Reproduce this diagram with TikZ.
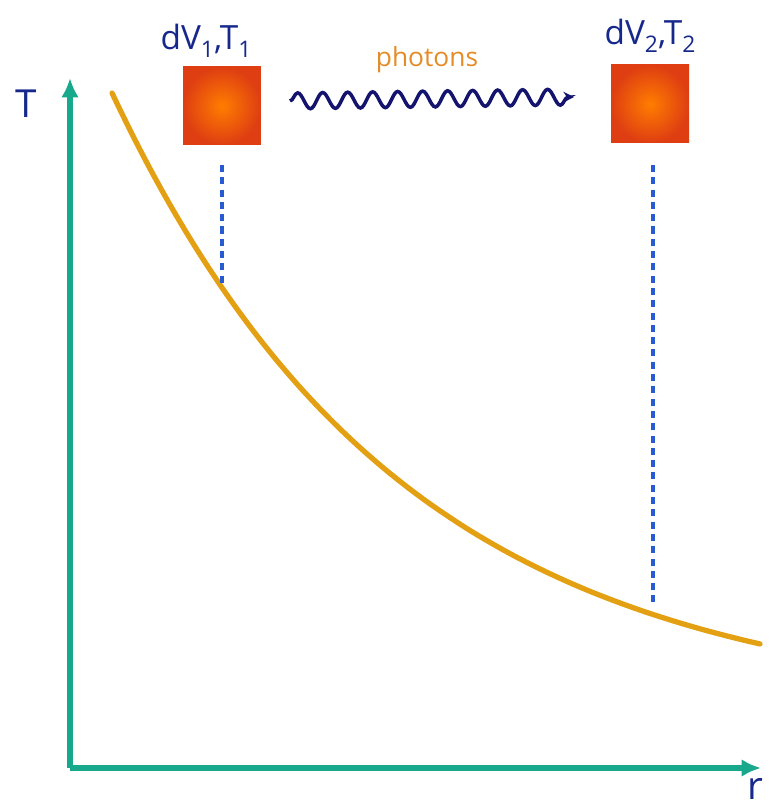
\documentclass[tikz,border=0pt]{standalone}
\usepackage{fontspec}
\setmainfont{Open Sans}
\usepackage{tikz}
\usetikzlibrary{decorations.pathmorphing,shadings,arrows.meta}

\definecolor{axisgreen}{RGB}{24,168,140}
\definecolor{curvegold}{RGB}{226,160,18}
\definecolor{labelblue}{RGB}{22,40,140}
\definecolor{dashblue}{RGB}{40,90,210}
\definecolor{photonorange}{RGB}{228,140,40}
\definecolor{wavenavy}{RGB}{20,20,110}
\definecolor{hotcore}{RGB}{255,125,0}
\definecolor{hotrim}{RGB}{222,62,18}

\newcommand{\lowsub}[1]{\raisebox{-0.45ex}{\fontsize{13}{15}\selectfont #1}}

\begin{document}
\begin{tikzpicture}[x=0.02cm,y=0.02cm,
    axis/.style={line width=3.5pt,axisgreen,-{Latex[length=11pt,width=10pt]}},
    cell/.style={minimum size=1.56cm,inner sep=0pt,
        inner color=hotcore,outer color=hotrim},
    cellname/.style={text=labelblue,font=\fontsize{19}{22}\selectfont},
    dropline/.style={line width=1.8pt,dashblue,dash pattern=on 4pt off 3pt}]
    \useasboundingbox (0,0) rectangle (769,807);

    % axes
    \coordinate (origin) at (70,39);
    \coordinate (ytip) at (70,729);
    \coordinate (xtip) at (761,39);
    \draw[axis] (origin) -- (ytip);
    \draw[axis] (origin) -- (xtip);
    \node[text=labelblue,font=\fontsize{22}{26}\selectfont] (ylab) at (26,703) {T};
    \node[text=labelblue,font=\fontsize{22}{26}\selectfont,anchor=south east,inner sep=0pt] (xlab) at (764,7) {r};

    % temperature profile
    \draw[line width=3pt,curvegold,line cap=round]
        plot[domain=112:760,samples=80,smooth]
        (\x,{97+617*exp(-(\x-112)/290)});

    % the two volume elements
    \node[cell] (cellA) at (222,701) {};
    \node[cell] (cellB) at (650,703) {};
    \node[cellname] (nameA) at (206,766) {dV\lowsub{1},T\lowsub{1}};
    \node[cellname] (nameB) at (650,771) {dV\lowsub{2},T\lowsub{2}};

    % drop lines to the curve
    \coordinate (footA) at (222,524);
    \coordinate (footB) at (653,202);
    \draw[dropline] (222,642) -- (footA);
    \draw[dropline] (653,642) -- (footB);

    % photon exchange
    \coordinate (waveA) at (290,706);
    \coordinate (waveB) at (574,710);
    \draw[line width=2pt,wavenavy,-{Stealth[length=6pt,width=6pt]},
        decorate,decoration={snake,amplitude=0.16cm,segment length=0.5cm,post length=3pt}]
        (waveA) -- (waveB);
    \node[text=photonorange,font=\fontsize{15}{18}\selectfont] (photons) at (427,747) {photons};
\end{tikzpicture}
\end{document}
